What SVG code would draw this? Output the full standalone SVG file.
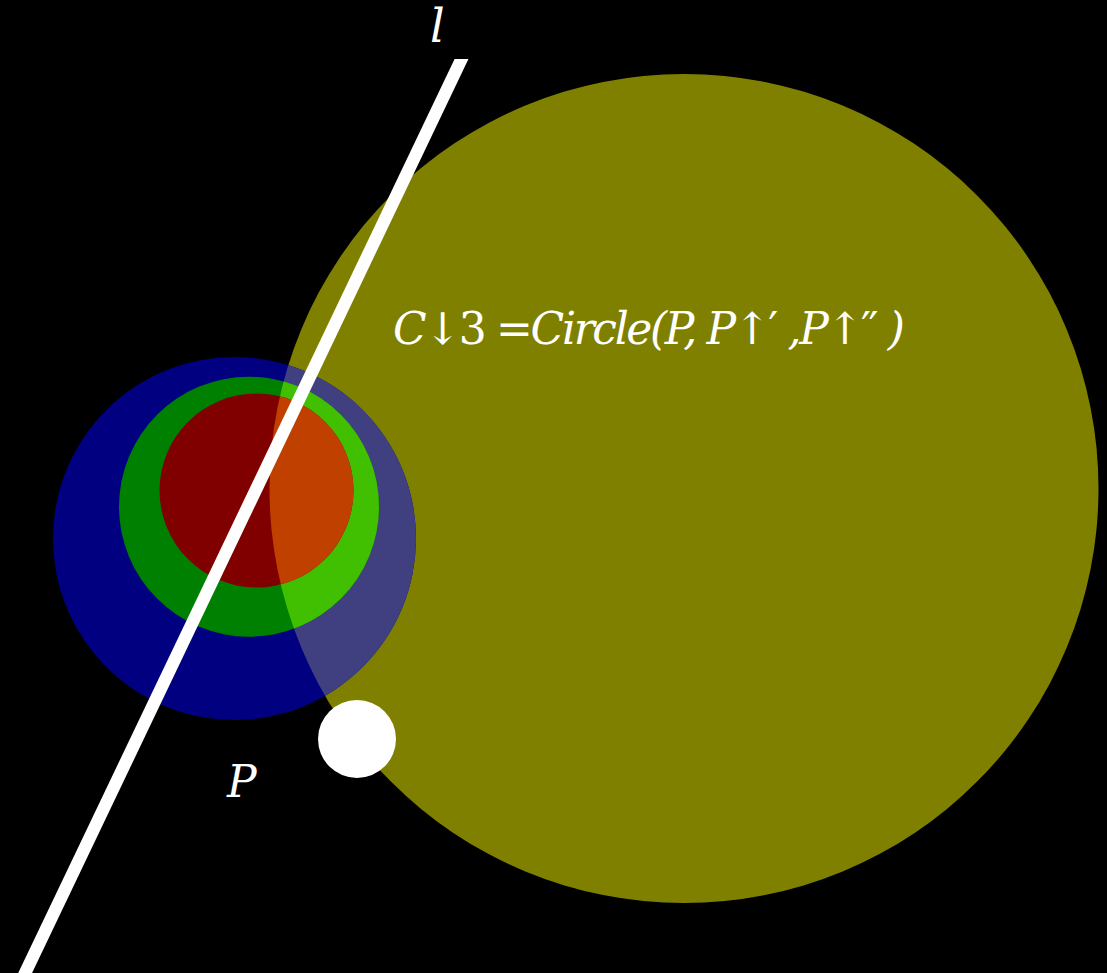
<svg xmlns="http://www.w3.org/2000/svg" width="1107" height="973" viewBox="0 0 1107 973">
<style>
.lbl{font-family:"DejaVu Serif","Liberation Serif",serif;font-style:italic;fill:#ffffff}
.up{font-style:normal}
</style>
<defs>
<clipPath id="oliveClip"><circle cx="684" cy="488.5" r="414.5"/></clipPath>
<clipPath id="lineClip"><rect x="0" y="59" width="1107" height="960"/></clipPath>
</defs>
<rect x="0" y="0" width="1107" height="973" fill="#000000"/>
<g id="circle-c3">
<circle cx="684" cy="488.5" r="414.5" fill="#808000"/>
</g>
<g id="circle-blue">
<circle cx="234.5" cy="538.5" r="181.5" fill="#000080"/>
<circle cx="234.5" cy="538.5" r="181.5" fill="#404080" clip-path="url(#oliveClip)"/>
</g>
<g id="circle-green">
<circle cx="249" cy="506.7" r="130" fill="#008000"/>
<circle cx="249" cy="506.7" r="130" fill="#40c000" clip-path="url(#oliveClip)"/>
</g>
<g id="circle-red">
<circle cx="256.5" cy="490.5" r="97" fill="#800000"/>
<circle cx="256.5" cy="490.5" r="97" fill="#c04000" clip-path="url(#oliveClip)"/>
</g>
<g id="connectors">
<line x1="470.6" y1="40" x2="17" y2="990" stroke="#ffffff" stroke-width="12.5" clip-path="url(#lineClip)"/>
</g>
<g id="point-p">
<circle cx="357" cy="739" r="39" fill="#ffffff"/>
<text class="lbl" x="227" y="797" font-size="44">P</text>
</g>
<g id="label-l">
<text class="lbl" x="430" y="42" font-size="46">l</text>
</g>
<g id="formula">
<text class="lbl" x="393" y="344" font-size="44" textLength="512" lengthAdjust="spacing">C<tspan class="up">↓3 =</tspan>Circle(P, P<tspan class="up">↑′</tspan> ,P<tspan class="up">↑′′</tspan> )</text>
</g>
</svg>
